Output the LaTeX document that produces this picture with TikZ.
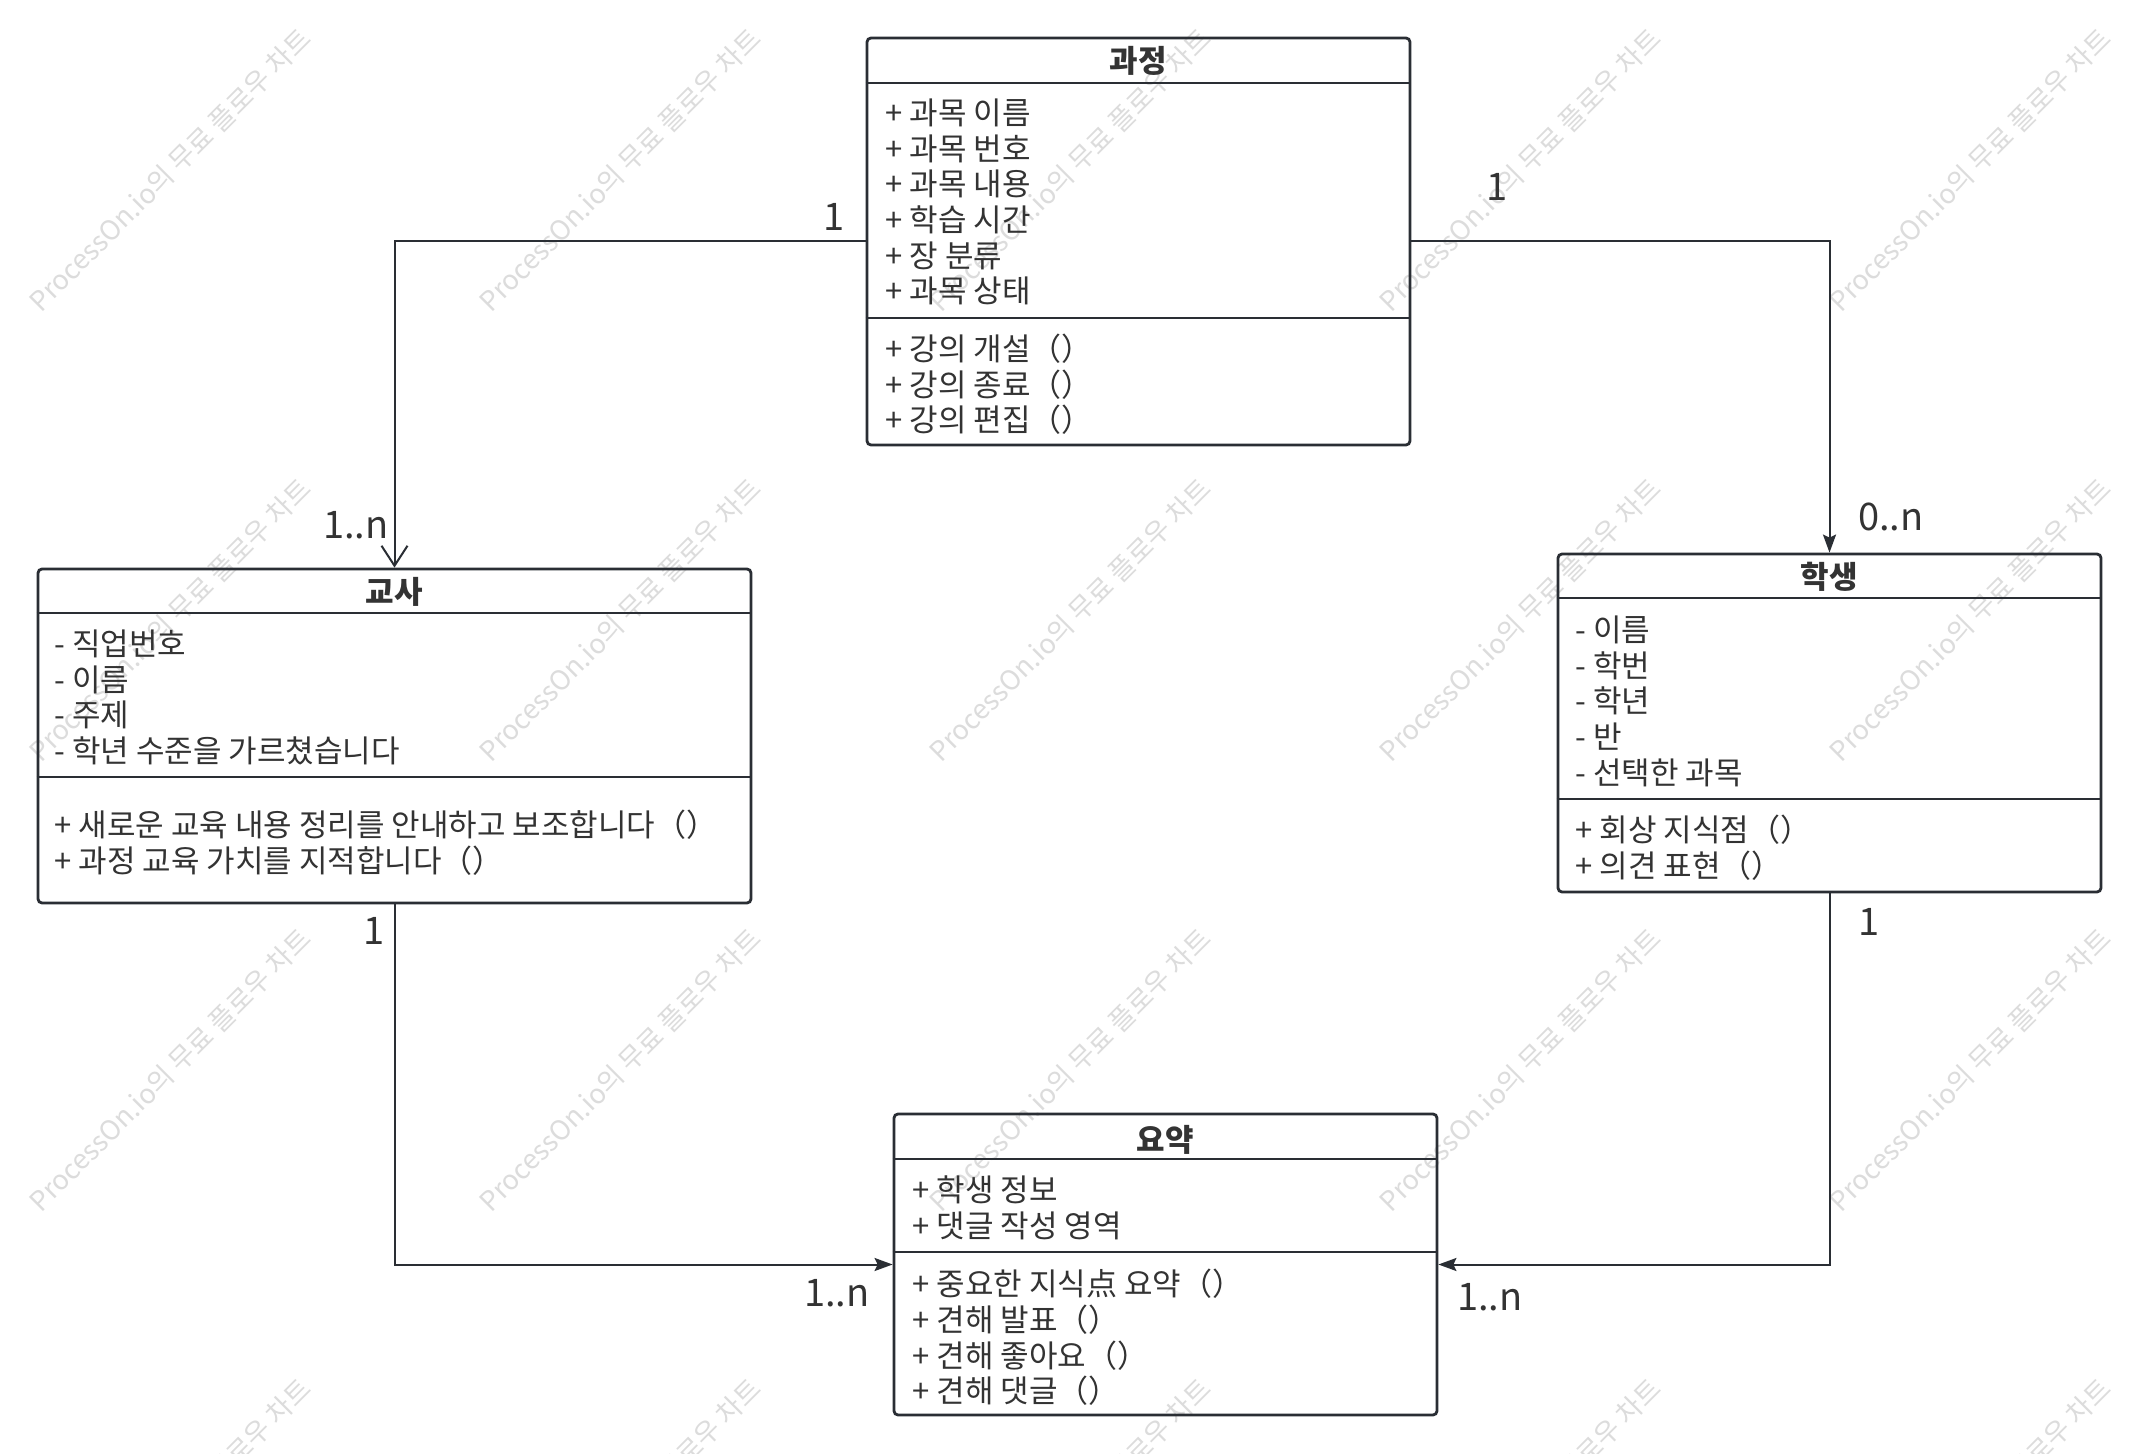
\documentclass[tikz,border=0pt]{standalone}
\usepackage{fontspec}
\newfontfamily\kr{Noto Sans CJK KR}
\usetikzlibrary{arrows.meta}
\definecolor{lc}{RGB}{42,46,52}
\definecolor{tc}{RGB}{51,51,51}
\definecolor{wm}{RGB}{220,220,220}
\begin{document}
\begin{tikzpicture}[x=0.5pt,y=-0.5pt,
  cls/.style={draw=lc, line width=1.4pt, rounded corners=2pt, inner sep=0pt},
  sepline/.style={draw=lc, line width=1.4pt},
  ttl/.style={font=\kr\bfseries\fontsize{15.5pt}{18pt}\selectfont, text=tc, inner sep=0pt},
  item/.style={font=\kr\fontsize{15.5pt}{18pt}\selectfont, text=tc, inner sep=0pt, anchor=west, text height=14pt, text depth=2.2pt},
  conn/.style={draw=lc, line width=1pt},
  card/.style={font=\kr\fontsize{19pt}{22pt}\selectfont, text=tc, inner sep=0pt},
  wmark/.style={font=\kr\fontsize{13.6pt}{16pt}\selectfont, text=wm, rotate=45, inner sep=0pt},
  openarr/.style={-{Straight Barb[length=10pt,width=13pt]}},
  fillarr/.style={-{Stealth[length=9pt,width=6.5pt,inset=1.5pt]}},
]
\useasboundingbox (0,0) rectangle (2138,1454);
\fill[white] (0,0) rectangle (2138,1454);

% watermarks
\begin{scope}
\clip (0,0) rectangle (2138,1454);
\foreach \cx in {170,620,1070,1520,1970}
  \foreach \cy in {170,620,1070,1520}
    \node[wmark] (wm-\cx-\cy) at (\cx,\cy) {ProcessOn.io의 무료 플로우 차트};
\end{scope}

% class boxes
\node[cls, minimum width=271.5pt, minimum height=203.5pt] (course) at (1138.5,241.5) {};
\node[cls, minimum width=356.5pt, minimum height=167pt] (teacher) at (394.5,736) {};
\node[cls, minimum width=271.5pt, minimum height=169pt] (student) at (1829.5,723) {};
\node[cls, minimum width=271.5pt, minimum height=150.5pt] (summary) at (1165.5,1264.5) {};

% separators
\draw[sepline] (course.west |- 0,83) -- (course.east |- 0,83);
\draw[sepline] (course.west |- 0,318) -- (course.east |- 0,318);
\draw[sepline] (teacher.west |- 0,613) -- (teacher.east |- 0,613);
\draw[sepline] (teacher.west |- 0,777) -- (teacher.east |- 0,777);
\draw[sepline] (student.west |- 0,598) -- (student.east |- 0,598);
\draw[sepline] (student.west |- 0,799) -- (student.east |- 0,799);
\draw[sepline] (summary.west |- 0,1159) -- (summary.east |- 0,1159);
\draw[sepline] (summary.west |- 0,1252) -- (summary.east |- 0,1252);

% titles
\node[ttl] (course-t) at (1138.5,61) {과정};
\node[ttl] (teacher-t) at (394.5,592) {교사};
\node[ttl] (student-t) at (1829.5,577) {학생};
\node[ttl] (summary-t) at (1165.5,1140) {요약};

% course
\foreach \t [count=\i] in {+ 과목 이름, + 과목 번호, + 과목 내용, + 학습 시간, + 장 분류, + 과목 상태}
  \node[item] (ca\i) at (885,{113+35.6*(\i-1)}) {\t};
\foreach \t [count=\i] in {+ 강의 개설（）, + 강의 종료（）, + 강의 편집（）}
  \node[item] (cm\i) at (885,{349+35.6*(\i-1)}) {\t};

% teacher
\foreach \t [count=\i] in {- 직업번호, - 이름, - 주제, - 학년 수준을 가르쳤습니다}
  \node[item] (ta\i) at (54,{644+35.6*(\i-1)}) {\t};
\foreach \t [count=\i] in {+ 새로운 교육 내용 정리를 안내하고 보조합니다（）, + 과정 교육 가치를 지적합니다（）}
  \node[item] (tm\i) at (54,{825+35.6*(\i-1)}) {\t};

% student
\foreach \t [count=\i] in {- 이름, - 학번, - 학년, - 반, - 선택한 과목}
  \node[item] (sa\i) at (1575,{630+35.6*(\i-1)}) {\t};
\foreach \t [count=\i] in {+ 회상 지식점（）, + 의견 표현（）}
  \node[item] (sm\i) at (1575,{830+35.6*(\i-1)}) {\t};

% summary
\foreach \t [count=\i] in {+ 학생 정보, + 댓글 작성 영역}
  \node[item] (ya\i) at (912,{1190+35.6*(\i-1)}) {\t};
\foreach \t [count=\i] in {+ 중요한 지식点 요약（）, + 견해 발표（）, + 견해 좋아요（）, + 견해 댓글（）}
  \node[item] (ym\i) at (912,{1284+35.6*(\i-1)}) {\t};

% connectors
\draw[conn, openarr] (course.west) -| (teacher.north);
\draw[conn, fillarr] (course.east) -| (student.north);
\draw[conn, fillarr] (teacher.south) |- (summary.west);
\draw[conn, fillarr] (student.south) |- (summary.east);

% multiplicities
\node[card] (m1) at (834,217) {1};
\node[card] (m2) at (356,525) {1..n};
\node[card] (m3) at (1497,187) {1};
\node[card] (m4) at (1891,517) {0..n};
\node[card] (m5) at (374,931) {1};
\node[card] (m6) at (837,1293) {1..n};
\node[card] (m7) at (1869,922) {1};
\node[card] (m8) at (1490,1297) {1..n};
\end{tikzpicture}
\end{document}
